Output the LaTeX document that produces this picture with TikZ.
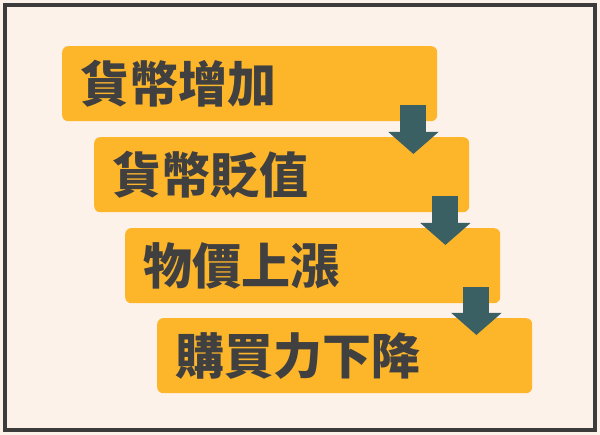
\documentclass[tikz,border=0pt]{standalone}
\usepackage{fontspec}
\newfontfamily\cjk{Noto Sans CJK TC Black}
\usepackage{xcolor}
\usepackage{tikz}
\usetikzlibrary{arrows.meta,positioning,calc}
\definecolor{bgCream}{HTML}{FDF2E9}
\definecolor{frameGray}{HTML}{3C3C3C}
\definecolor{boxOrange}{HTML}{FDB52A}
\definecolor{arrTeal}{HTML}{3B6064}
\definecolor{txtGray}{HTML}{404040}
\begin{document}
\begin{tikzpicture}[x=1pt,y=1pt,
  stage/.style={fill=boxOrange,rounded corners=6pt,anchor=north west,
    text width=339pt,inner xsep=18pt,inner ysep=0pt,minimum height=75pt,
    align=left,text=txtGray,font=\cjk\fontsize{49}{49}\selectfont},
  down/.style={arrTeal,line width=26pt,-{Triangle[width=49pt,length=22pt]}}]
% background and frame
\fill[bgCream] (0,0) rectangle (600,435);
\draw[frameGray,line width=4pt] (5,5) rectangle (595,430);
% stages
\node[stage] (b1) at (62,389) {貨幣增加};
\node[stage] (b2) at (94,298) {貨幣貶值};
\node[stage] (b3) at (125,207) {物價上漲};
\node[stage] (b4) at (157,117) {購買力下降};
% arrows between stages
\foreach \i/\j in {1/2,2/3,3/4}{
  \coordinate (s\i) at ($(b\i.south east)+(-24,16)$);
  \coordinate (e\i) at ($(s\i |- b\j.north)+(0,-17)$);
  \draw[down] (s\i) -- (e\i);
}
\end{tikzpicture}
\end{document}
